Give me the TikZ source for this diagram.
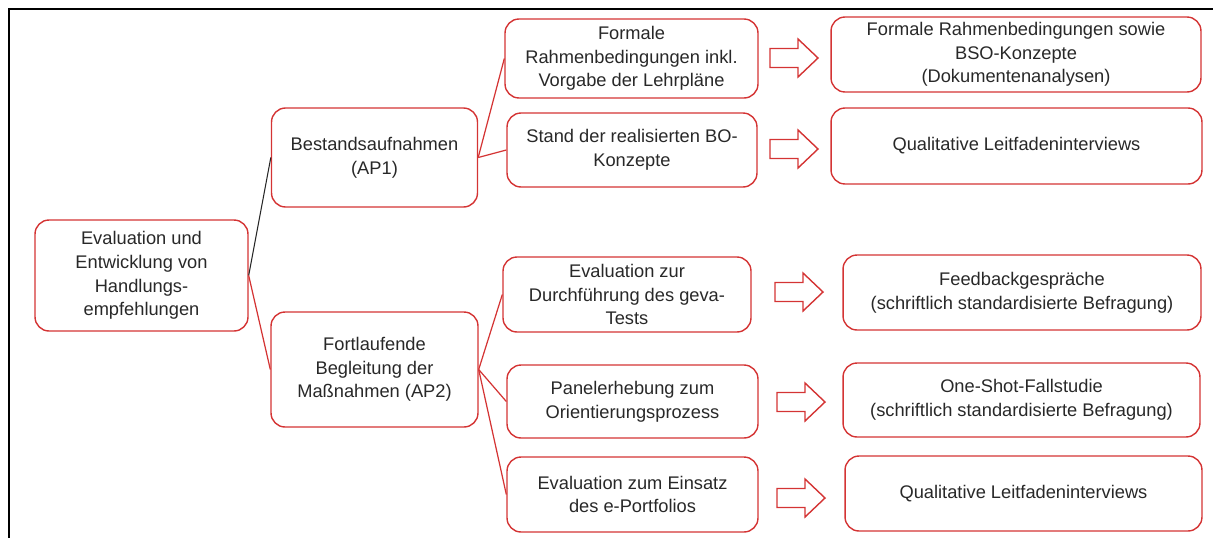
\documentclass[tikz,border=0pt]{standalone}
\usepackage{fontspec}
\setmainfont{Liberation Sans}
\usetikzlibrary{positioning}

\definecolor{boxred}{RGB}{212,52,52}
\definecolor{txtgray}{RGB}{40,40,40}

\begin{document}
\begin{tikzpicture}[
    x=0.02cm, y=-0.02cm,
    box/.style={draw=boxred, line width=0.8pt, rounded corners=0.28cm,
                align=center, inner sep=2pt, text=txtgray,
                font=\fontsize{10.4pt}{13.4pt}\selectfont},
    link/.style={draw=boxred, line width=0.7pt},
    blockarr/.style={draw=boxred, line width=0.8pt, line join=miter}
  ]
  \useasboundingbox (0,0) rectangle (1213,538);
  % frame of the page
  \draw[line width=1.6pt] (1213,9) -- (9,9) -- (9,538);

  % root and work packages
  \node[box, minimum width=4.26cm, minimum height=2.22cm] (root) at (141.5,275.5)
    {Evaluation und\\Entwicklung von\\Handlungs-\\empfehlungen};
  \node[box, minimum width=4.12cm, minimum height=1.98cm] (ap1) at (374.5,157.5)
    {Bestandsaufnahmen\\(AP1)};
  \node[box, minimum width=4.14cm, minimum height=2.30cm] (ap2) at (374.5,369.5)
    {Fortlaufende\\Begleitung der\\Maßnahmen (AP2)};

  % tasks
  \node[box, minimum width=5.06cm, minimum height=1.58cm] (formal) at (631.5,58.5)
    {Formale\\Rahmenbedingungen inkl.\\Vorgabe der Lehrpläne};
  \node[box, minimum width=5.00cm, minimum height=1.48cm] (stand) at (632,150)
    {Stand der realisierten BO-\\Konzepte};
  \node[box, minimum width=4.96cm, minimum height=1.50cm] (geva) at (627,294.5)
    {Evaluation zur\\Durchführung des geva-\\Tests};
  \node[box, minimum width=5.02cm, minimum height=1.46cm] (panel) at (632.5,401.5)
    {Panelerhebung zum\\Orientierungsprozess};
  \node[box, minimum width=5.02cm, minimum height=1.50cm] (portf) at (632.5,494.5)
    {Evaluation zum Einsatz\\des e-Portfolios};

  % methods
  \node[box, minimum width=7.40cm, minimum height=1.50cm] (doc) at (1016,54.5)
    {Formale Rahmenbedingungen sowie\\BSO-Konzepte\\(Dokumentenanalysen)};
  \node[box, minimum width=7.42cm, minimum height=1.52cm] (inter1) at (1016.5,146)
    {Qualitative Leitfadeninterviews};
  \node[box, minimum width=7.16cm, minimum height=1.50cm] (feed) at (1022,292.5)
    {Feedbackgespräche\\(schriftlich standardisierte Befragung)};
  \node[box, minimum width=7.14cm, minimum height=1.48cm] (shot) at (1021.5,400)
    {One-Shot-Fallstudie\\(schriftlich standardisierte Befragung)};
  \node[box, minimum width=7.14cm, minimum height=1.50cm] (inter2) at (1023.5,493.5)
    {Qualitative Leitfadeninterviews};

  % connectors
  \draw[line width=0.6pt, black!85] (root.east) -- (ap1.west);
  \draw[link] (root.east) -- (ap2.west);
  \draw[link] (ap1.east) -- (formal.west);
  \draw[link] (ap1.east) -- (stand.west);
  \draw[link] (ap2.east) -- (geva.west);
  \draw[link] (ap2.east) -- (panel.west);
  \draw[link] (ap2.east) -- (portf.west);

  % block arrows
  \foreach \x/\y in {770/58, 770/149, 775/292, 777/402, 777/498} {
    \draw[blockarr] (\x,\y) ++(0,-9.5) -- ++(28,0) -- ++(0,-9.5)
      -- ++(20,19) -- ++(-20,19) -- ++(0,-9.5) -- ++(-28,0) -- cycle;
  }
\end{tikzpicture}
\end{document}
